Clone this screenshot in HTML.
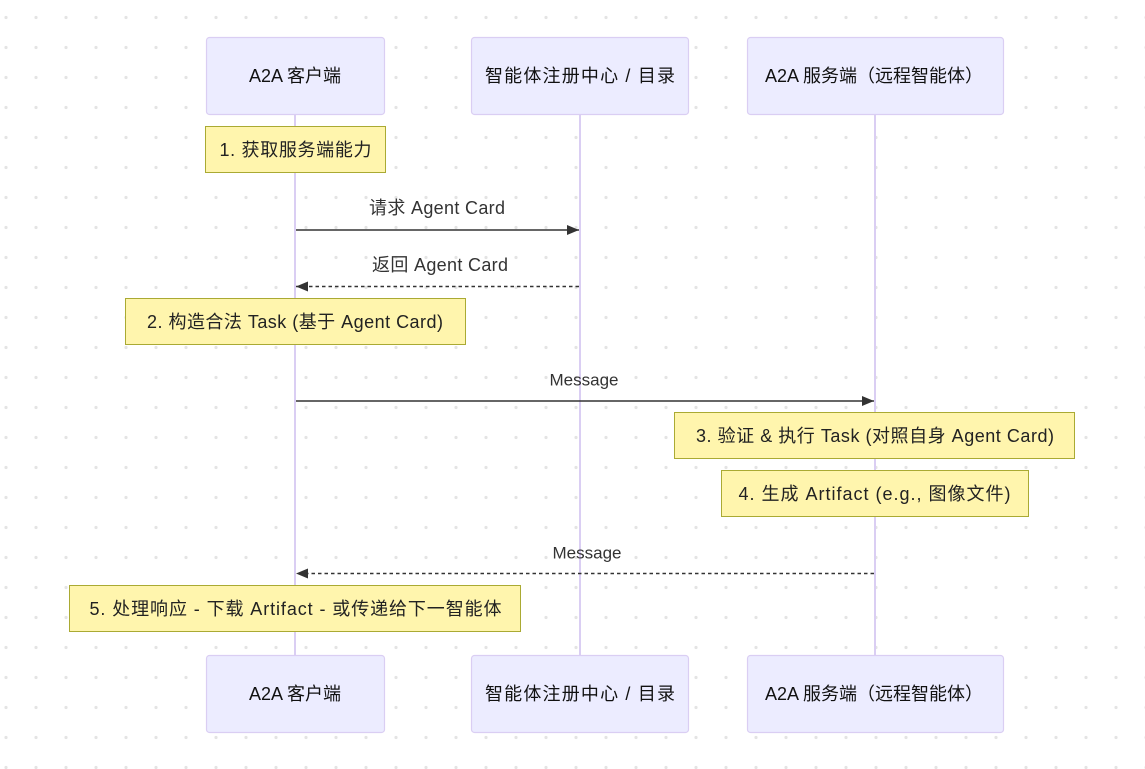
<!DOCTYPE html>
<html><head><meta charset="utf-8">
<style>
html,body{margin:0;padding:0;background:#fff;}
svg{display:block;}
text{font-family:"Liberation Sans","Noto Sans CJK SC",sans-serif;font-size:18px;}
</style></head>
<body>
<svg width="1145" height="769" viewBox="0 0 1145 769" xmlns="http://www.w3.org/2000/svg">
<defs>
<pattern id="dots" x="0" y="0" width="30" height="30" patternUnits="userSpaceOnUse">
<circle cx="6" cy="17.5" r="1.6" fill="#e4e4e4"/>
</pattern>
<marker id="ah" viewBox="0 0 12 10" markerWidth="12" markerHeight="10" refX="12" refY="5" orient="auto" markerUnits="userSpaceOnUse">
<path d="M0,0 L12,5 L0,10 z" fill="#333"/>
</marker>
</defs>
<rect width="1145" height="769" fill="#fff"/>
<rect width="1145" height="769" fill="url(#dots)"/>

<!-- lifelines -->
<g stroke="#dacef3" stroke-width="2">
<line x1="295" y1="114" x2="295" y2="656"/>
<line x1="580" y1="114" x2="580" y2="656"/>
<line x1="875" y1="114" x2="875" y2="656"/>
</g>

<!-- actors -->
<g fill="#ececff" stroke="#dacef3" stroke-width="1.2">
<rect x="206.5" y="37.5" width="178" height="77" rx="3"/>
<rect x="471.5" y="37.5" width="217" height="77" rx="3"/>
<rect x="747.5" y="37.5" width="256" height="77" rx="3"/>
<rect x="206.5" y="655.5" width="178" height="77" rx="3"/>
<rect x="471.5" y="655.5" width="217" height="77" rx="3"/>
<rect x="747.5" y="655.5" width="256" height="77" rx="3"/>
</g>
<g fill="#111" text-anchor="middle" dominant-baseline="central">
<text x="295" y="76">A2A 客户端</text>
<text x="580" y="76" textLength="190" lengthAdjust="spacing">智能体注册中心 / 目录</text>
<text x="874" y="76">A2A 服务端（远程智能体）</text>
<text x="295" y="694">A2A 客户端</text>
<text x="580" y="694" textLength="190" lengthAdjust="spacing">智能体注册中心 / 目录</text>
<text x="874" y="694">A2A 服务端（远程智能体）</text>
</g>

<!-- notes -->
<g fill="#fff5ad" stroke="#aaaa33" stroke-width="1">
<rect x="205.5" y="126.5" width="180" height="46"/>
<rect x="125.5" y="298.5" width="340" height="46"/>
<rect x="674.5" y="412.5" width="400" height="46"/>
<rect x="721.5" y="470.5" width="307" height="46"/>
<rect x="69.5" y="585.5" width="451" height="46"/>
</g>
<g fill="#222" text-anchor="middle" dominant-baseline="central">
<text x="295.5" y="150" textLength="152" lengthAdjust="spacing">1. 获取服务端能力</text>
<text x="295" y="322" textLength="296" lengthAdjust="spacing">2. 构造合法 Task (基于 Agent Card)</text>
<text x="875" y="436" textLength="358" lengthAdjust="spacing">3. 验证 &amp; 执行 Task (对照自身 Agent Card)</text>
<text x="874.5" y="494" textLength="272" lengthAdjust="spacing">4. 生成 Artifact (e.g., 图像文件)</text>
<text x="295.5" y="609" textLength="412" lengthAdjust="spacing">5. 处理响应 - 下载 Artifact - 或传递给下一智能体</text>
</g>

<!-- messages -->
<g stroke="#333" stroke-width="1.5" fill="none">
<line x1="296" y1="230" x2="579" y2="230" marker-end="url(#ah)"/>
<line x1="579" y1="286.5" x2="296" y2="286.5" stroke-dasharray="3.5,3" marker-end="url(#ah)"/>
<line x1="296" y1="401" x2="874" y2="401" marker-end="url(#ah)"/>
<line x1="874" y1="573.5" x2="296" y2="573.5" stroke-dasharray="3.5,3" marker-end="url(#ah)"/>
</g>
<g fill="#333" text-anchor="middle" dominant-baseline="central">
<text x="437" y="208" textLength="136" lengthAdjust="spacing">请求 Agent Card</text>
<text x="440" y="265" textLength="136" lengthAdjust="spacing">返回 Agent Card</text>
<text x="584" y="380" style="font-size:17px">Message</text>
<text x="587" y="553" style="font-size:17px">Message</text>
</g>
</svg>
</body></html>
